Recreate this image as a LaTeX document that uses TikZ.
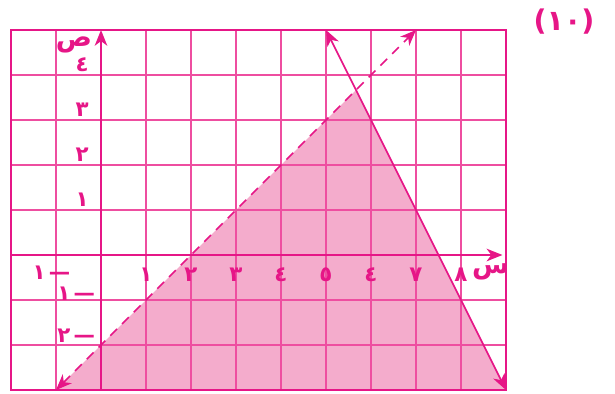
\documentclass[tikz,border=0pt]{standalone}
\usepackage{fontspec}
\newfontfamily\arabicfont[Script=Arabic]{DejaVu Sans}
\TeXXeTstate=1
\usetikzlibrary{arrows.meta}
\definecolor{mag}{RGB}{230,22,135}
\definecolor{gridpink}{RGB}{238,78,160}
\definecolor{fillpink}{RGB}{244,172,204}
\begin{document}
\begin{tikzpicture}[
  tip/.style={-{Stealth[length=10pt,width=8pt,inset=3pt]}},
  bothtips/.style={{Stealth[length=10pt,width=8pt,inset=3pt]}-{Stealth[length=10pt,width=8pt,inset=3pt]}},
  gridline/.style={draw=gridpink, line width=0.9pt},
  frameline/.style={draw=mag, line width=1.1pt},
  axisline/.style={draw=mag, line width=1.1pt, tip},
  graphline/.style={draw=mag, line width=1.1pt, bothtips},
  dashline/.style={draw=mag, line width=1.1pt, bothtips, dash pattern=on 6pt off 4.5pt},
  lbl/.style={text=mag, font=\arabicfont\bfseries\fontsize{13.5}{15}\selectfont, inner sep=0pt},
  varlbl/.style={text=mag, font=\arabicfont\bfseries\fontsize{17}{19}\selectfont, inner sep=0pt},
  ttl/.style={text=mag, font=\arabicfont\bfseries\fontsize{18}{21}\selectfont, inner sep=0pt}
]
\useasboundingbox (-2.2444,-3.0667) rectangle (11.4222,5.6667);

% shaded region
\fill[fillpink] (-1,-3) -- (17/3,11/3) -- (9,-3) -- cycle;

% grid
\foreach \x in {-1,1,2,...,8} \draw[gridline] (\x,-3) -- (\x,5);
\foreach \y in {-2,-1,1,2,3,4} \draw[gridline] (-2,\y) -- (9,\y);
\draw[frameline] (-2,-3) rectangle (9,5);

% axes
\coordinate (xs) at (-2,0);
\coordinate (xe) at (8.92,0);
\coordinate (ys) at (0,-3);
\coordinate (ye) at (0,5);
\draw[axisline] (xs) -- (xe);
\draw[axisline] (ys) -- (ye);

% lines
\coordinate (sa) at (5,5);
\coordinate (sb) at (9,-3);
\draw[graphline] (sa) -- (sb);
\coordinate (da) at (-1,-3);
\coordinate (db) at (7,5);
\draw[dashline] (da) -- (db);

% x labels
\node[lbl] (x1) at (1,-0.44) {١};
\node[lbl] (x2) at (2,-0.44) {٢};
\node[lbl] (x3) at (3,-0.44) {٣};
\node[lbl] (x4) at (4,-0.44) {٤};
\node[lbl] (x5) at (5,-0.44) {٥};
\node[lbl] (x6) at (6,-0.44) {٤};
\node[lbl] (x7) at (7,-0.44) {٧};
\node[lbl] (x8) at (8,-0.44) {٨};
\node[lbl] (xm1) at (-1.1,-0.4) {١\kern2pt—};

% y labels
\node[lbl] (y1) at (-0.42,1.22) {١};
\node[lbl] (y2) at (-0.42,2.22) {٢};
\node[lbl] (y3) at (-0.42,3.22) {٣};
\node[lbl] (y4) at (-0.42,4.22) {٤};
\node[lbl] (ym1) at (-0.55,-0.86) {١\kern2pt—};
\node[lbl] (ym2) at (-0.55,-1.8) {٢\kern2pt—};

% axis names
\node[varlbl] (ylab) at (-0.6,4.66) {ص};
\node[varlbl] (xlab) at (8.66,-0.38) {س};

% title
\node[ttl] (title) at (10.29,5.18) {(١٠)};
\end{tikzpicture}
\end{document}
